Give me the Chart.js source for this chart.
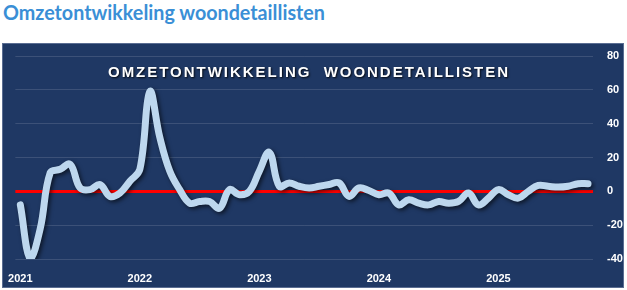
<!DOCTYPE html>
<html><head><meta charset="utf-8">
<script src="https://cdn.jsdelivr.net/npm/chart.js@4"></script>
<style>
html,body{margin:0;padding:0;background:#fff;width:627px;height:290px;overflow:hidden}
#t{position:absolute;left:3px;top:0px;font:bold 21px Lato,'Open Sans',sans-serif;color:#3a8fd6;white-space:nowrap;line-height:24px;transform-origin:0 0}
#panel{position:absolute;left:2px;top:43px;width:620px;height:243px;background:#1f3864;border:1px solid #5a6d92}
#c{position:absolute;left:0;top:0}
#st{position:absolute;left:105px;top:20px;white-space:nowrap;font:bold 15px 'Liberation Sans',Arial,sans-serif;color:#fff;letter-spacing:2px;text-shadow:1px 1px 2px rgba(0,0,0,0.85);line-height:15px}
</style></head>
<body>
<div id="t">Omzetontwikkeling woondetaillisten</div>
<div id="panel"><canvas id="c" width="620" height="243"></canvas><div id="st">OMZETONTWIKKELING&nbsp;&nbsp;WOONDETAILLISTEN</div></div>
<script>
const tickYears = ['2021','2022','2023','2024','2025'];
const months = [];
for (const y of tickYears) for (let m = 1; m <= 12; m++) months.push(y + '-' + String(m).padStart(2,'0'));
const values = [
  -8, -40, -22, 11, 13, 16, 2, 1, 4, -3, -1, 6,
  13, 59, 32, 12, 1, -7, -6, -6, -10, 1, -2, 0,
  12, 23, 3, 5, 3, 2, 3, 4, 5, -3, 2, 0.5,
  -2, -1, -8, -5, -7, -8, -6, -7, -6, -1, -8, -4,
  1, -2, -4, 0, 3.5, 3, 2.5, 3, 4.5, 4.5
];
const categories = months.slice(0, values.length);
const yMin = -40, yMax = 80, yStep = 20;

// fit titles
const t = document.getElementById('t');
const tw = t.getBoundingClientRect().width;
t.style.transform = 'scaleX(' + (322 / tw) + ')';
const st = document.getElementById('st');
const sw = st.getBoundingClientRect().width;
const n = st.textContent.length;
st.style.letterSpacing = (2 + (402 - sw) / n) + 'px';

const shadow = {
  id: 'shadow',
  beforeDatasetDraw(chart) { const c = chart.ctx; c.save(); c.shadowColor = 'rgba(0,0,0,0.6)'; c.shadowBlur = 4; c.shadowOffsetX = 2; c.shadowOffsetY = 2; },
  afterDatasetDraw(chart) { chart.ctx.restore(); }
};
const tickFont = { family: "'Liberation Sans', Arial, sans-serif", size: 11, weight: 'bold' };
new Chart(document.getElementById('c'), {
  type: 'line',
  data: { labels: categories, datasets: [{ data: values, borderColor: '#bdd7ee', borderWidth: 7, pointRadius: 0, tension: 0.4, borderCapStyle: 'round', borderJoinStyle: 'round', fill: false }] },
  options: {
    responsive: false, animation: false, devicePixelRatio: 1,
    layout: { padding: { left: 12, top: 12, right: 0, bottom: 0 } },
    plugins: { legend: { display: false }, tooltip: { enabled: false }, title: { display: false } },
    scales: {
      x: {
        offset: true, grid: { display: false }, border: { display: false },
        ticks: { autoSkip: false, maxRotation: 0, minRotation: 0, color: '#fff', font: tickFont, padding: 5,
          callback: (v, i) => (i % 12 === 0 ? tickYears[i / 12] : '') },
        afterFit(s) { s.height = 28; }
      },
      y: {
        position: 'right', min: yMin, max: yMax,
        ticks: { stepSize: yStep, color: '#fff', font: tickFont, padding: 14, crossAlign: 'near' },
        grid: { drawTicks: false, color: c => (c.tick.value === 0 ? '#ff0000' : 'rgba(255,255,255,0.13)'), lineWidth: c => (c.tick.value === 0 ? 3 : 1) },
        border: { display: false },
        afterFit(s) { s.width = 30; s.paddingTop = 0; s.paddingBottom = 0; }
      }
    }
  },
  plugins: [shadow]
});
</script>
</body></html>
